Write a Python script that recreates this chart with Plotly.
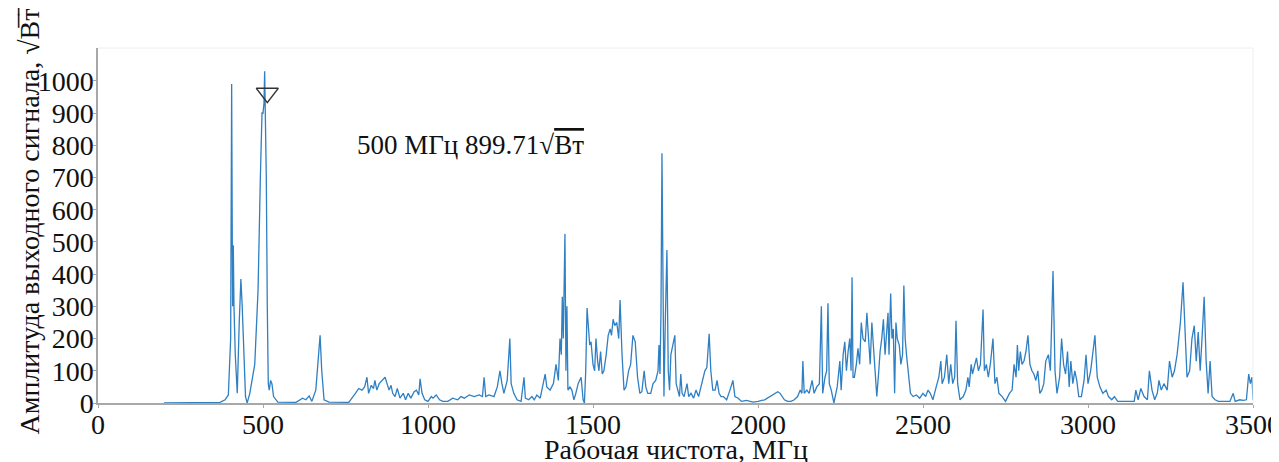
import plotly.graph_objects as go

# Spectrum (frequency in MHz, amplitude in sqrt(W))
freq_mhz = [200, 370, 385, 395, 402, 405, 407, 408, 410, 412, 416, 422, 428, 433, 437, 441, 447, 452,
            460, 475, 485, 492, 497, 500, 503, 505, 507, 510, 513, 516, 519, 523, 527, 532, 545,
            600, 620, 630, 640, 648, 660, 668, 673, 678, 685, 700, 760, 780, 790, 800, 808, 815, 820,
            828, 835, 839, 845, 852, 862, 870, 876, 882, 888, 893, 900, 907, 915, 925, 932, 940, 948,
            958, 965, 972, 976, 982, 990, 1000, 1010, 1015, 1025, 1035, 1045, 1060, 1075, 1090, 1100,
            1110, 1125, 1140, 1155, 1165, 1170, 1175, 1185, 1200, 1210, 1218, 1224, 1230, 1240, 1248,
            1252, 1260, 1270, 1282, 1291, 1295, 1305, 1315, 1322, 1330, 1340, 1348, 1355, 1360, 1370,
            1380, 1388, 1395, 1400, 1404, 1407, 1410, 1412, 1415, 1418, 1421, 1424, 1430, 1436, 1442,
            1448, 1455, 1464, 1470, 1474, 1478, 1482, 1487, 1490, 1494, 1500, 1505, 1509, 1514, 1518,
            1523, 1528, 1533, 1540, 1546, 1552, 1556, 1561, 1566, 1572, 1578, 1582, 1588, 1594, 1600,
            1608, 1614, 1621, 1628, 1635, 1642, 1648, 1655, 1660, 1666, 1675, 1682, 1690, 1697, 1700,
            1703, 1706, 1709, 1712, 1715, 1719, 1724, 1728, 1732, 1736, 1741, 1748, 1752, 1757, 1762,
            1766, 1770, 1776, 1785, 1790, 1797, 1805, 1812, 1820, 1828, 1836, 1839, 1845, 1852, 1857,
            1863, 1870, 1876, 1882, 1888, 1895, 1905, 1915, 1924, 1930, 1940, 1950, 1965, 1985, 2000,
            2020, 2045, 2060, 2067, 2080, 2090, 2100, 2110, 2120, 2128, 2133, 2136, 2140, 2148, 2155,
            2164, 2170, 2178, 2186, 2192, 2196, 2203, 2208, 2212, 2216, 2222, 2230, 2240, 2248, 2252,
            2258, 2263, 2268, 2273, 2278, 2282, 2285, 2288, 2292, 2298, 2303, 2308, 2313, 2318, 2325,
            2330, 2336, 2340, 2345, 2350, 2355, 2360, 2366, 2370, 2375, 2380, 2385, 2390, 2394, 2397,
            2402, 2406, 2410, 2414, 2418, 2422, 2428, 2433, 2438, 2442, 2446, 2450, 2455, 2462, 2470,
            2480, 2490, 2500, 2508, 2515, 2522, 2530, 2540, 2548, 2554, 2558, 2565, 2572, 2578, 2584,
            2590, 2596, 2600, 2605, 2612, 2622, 2630, 2636, 2640, 2646, 2650, 2655, 2662, 2668, 2674,
            2682, 2686, 2692, 2698, 2704, 2712, 2718, 2724, 2730, 2740, 2750, 2762, 2770, 2776, 2782,
            2786, 2790, 2795, 2800, 2806, 2812, 2818, 2824, 2830, 2836, 2842, 2848, 2854, 2860, 2866,
            2872, 2880, 2886, 2894, 2900, 2906, 2914, 2920, 2926, 2932, 2938, 2943, 2948, 2954, 2960,
            2966, 2972, 2980, 2988, 2994, 3000, 3008, 3014, 3021, 3028, 3036, 3045, 3055, 3062, 3072,
            3080, 3090, 3110, 3130, 3140, 3145, 3152, 3160, 3170, 3180, 3186, 3194, 3202, 3210, 3215,
            3222, 3230, 3240, 3247, 3255, 3262, 3270, 3280, 3288, 3294, 3300, 3308, 3315, 3322, 3328,
            3334, 3340, 3346, 3352, 3358, 3364, 3370, 3376, 3385, 3395, 3410, 3430, 3440, 3446, 3460,
            3470, 3480, 3487, 3492, 3497, 3500]
amplitude = [0, 2, 10, 25, 200, 990, 480, 300, 490, 300, 150, 30, 250, 385, 300, 200, 20, 0,
             30, 120, 350, 700, 900, 899.71, 930, 1030, 900, 700, 300, 60, 40, 70, 60, 20, 3,
             2, 15, 10, 22, 5, 40, 130, 210, 100, 10, 3, 2, 30, 45, 40, 50, 80, 30,
             55, 45, 70, 40, 60, 70, 80, 60, 40, 55, 30, 20, 45, 15, 30, 10, 30, 15,
             35, 40, 25, 75, 30, 10, 5, 20, 15, 25, 10, 5, 5, 15, 10, 20,
             15, 25, 20, 25, 20, 80, 20, 25, 20, 50, 100, 60, 30, 70, 200,
             60, 30, 10, 5, 80, 15, 10, 20, 10, 25, 15, 60, 90, 50, 40,
             60, 120, 70, 200, 150, 330, 200, 340, 525, 100, 300, 40, 50, 40, 10,
             30, 60, 80, 10, 0, 100, 295, 200, 180, 190, 120, 100, 200, 130, 100,
             160, 90, 100, 150, 210, 230, 210, 260, 240, 250, 200, 320, 150, 40, 50,
             100, 120, 210, 190, 80, 30, 35, 100, 50, 30, 30, 60, 70, 100, 180,
             90, 280, 775, 300, 20, 250, 475, 100, 40, 150, 180, 210, 60, 40, 20,
             90, 30, 20, 60, 20, 30, 15, 40, 20, 50, 80, 100, 110, 215, 100,
             40, 40, 70, 30, 20, 20, 10, 40, 70, 20, 15, 5, 8, 3, 5,
             10, 25, 35, 30, 10, 5, 5, 10, 20, 40, 30, 130, 30, 40, 30,
             70, 30, 50, 60, 300, 30, 80, 100, 310, 60, 40, 0, 50, 130, 40,
             150, 190, 100, 160, 200, 100, 390, 80, 80, 120, 170, 120, 250, 200, 190,
             280, 200, 120, 250, 160, 100, 20, 100, 160, 200, 260, 150, 230, 280, 150,
             340, 200, 230, 30, 250, 200, 180, 120, 150, 365, 200, 150, 100, 30, 20,
             25, 15, 30, 20, 40, 30, 10, 50, 80, 130, 60, 80, 150, 60, 120,
             60, 80, 255, 60, 10, 20, 40, 80, 50, 120, 90, 110, 140, 100, 120,
             290, 100, 120, 80, 120, 200, 60, 80, 30, 20, 5, 30, 40, 120, 80,
             180, 100, 160, 120, 130, 160, 210, 120, 100, 90, 70, 100, 30, 40, 60,
             130, 150, 100, 410, 100, 30, 80, 200, 120, 90, 160, 50, 130, 60, 100,
             70, 20, 20, 70, 150, 60, 100, 150, 210, 80, 50, 30, 40, 20, 10,
             20, 5, 5, 5, 5, 40, 10, 45, 20, 10, 100, 40, 10, 30, 70,
             40, 60, 40, 130, 80, 100, 150, 250, 375, 200, 80, 100, 200, 240, 130,
             220, 100, 210, 330, 130, 30, 130, 20, 10, 5, 5, 5, 30, 5, 10,
             8, 10, 90, 60, 80, 10]

x_ticks = [0, 500, 1000, 1500, 2000, 2500, 3000, 3500]
y_ticks = [0, 100, 200, 300, 400, 500, 600, 700, 800, 900, 1000]

marker_freq = [513]
marker_amp = [962]
marker_label = "500 МГц 899.71√<span style='text-decoration:overline'>Вт</span>"
y_title = "Амплитуда выходного сигнала, √В\u0305т\u0305"
x_title = "Рабочая чистота, МГц"

FONT = "Liberation Serif, Times New Roman, serif"

fig = go.Figure()
fig.add_trace(go.Scatter(x=freq_mhz, y=amplitude, mode="lines",
                         line=dict(color="#2f7fc3", width=1.3), showlegend=False,
                         hoverinfo="x+y"))
fig.add_trace(go.Scatter(x=marker_freq, y=marker_amp, mode="markers",
                         marker=dict(symbol="triangle-down-open", size=19,
                                     color="#333333", line=dict(width=1.5, color="#333333")),
                         showlegend=False, hoverinfo="skip"))

fig.update_layout(
    width=1271, height=454,
    margin=dict(l=90, r=26, t=40, b=59),
    paper_bgcolor="white", plot_bgcolor="white",
    font=dict(family=FONT, size=28, color="#111111"),
    xaxis=dict(range=[0, 3500], tickvals=x_ticks, showgrid=False, zeroline=False,
               automargin=False, ticklabeloverflow="allow",
               showline=True, linecolor="#a8a8a8", linewidth=1.5,
               ticks="outside", ticklen=3, tickcolor="#a8a8a8",
               ticklabelstandoff=-7,
               tickfont=dict(family=FONT, size=28, color="#111111")),
    yaxis=dict(range=[0, 1102], tickvals=y_ticks, showgrid=False, zeroline=False,
               automargin=False, ticklabeloverflow="allow",
               showline=True, linecolor="#a8a8a8", linewidth=1.5,
               ticks="outside", ticklen=3, tickcolor="#a8a8a8",
               ticklabelstandoff=-6,
               tickfont=dict(family=FONT, size=28, color="#111111")),
    shapes=[
        dict(type="line", xref="paper", yref="paper", x0=0, x1=1, y0=1, y1=1,
             line=dict(color="#eeeeee", width=1)),
        dict(type="line", xref="paper", yref="paper", x0=1, x1=1, y0=0, y1=1,
             line=dict(color="#eeeeee", width=1)),
    ],
    annotations=[
        dict(x=780, y=801, xref="x", yref="y", text=marker_label, showarrow=False,
             xanchor="left", yanchor="middle", font=dict(family=FONT, size=27, color="#111111")),
        dict(x=0.5, y=-0.132, xref="paper", yref="paper", text=x_title,
             showarrow=False, xanchor="center", yanchor="middle",
             font=dict(family=FONT, size=28, color="#111111")),
        dict(x=-0.059, y=0.522, xref="paper", yref="paper", textangle=-90,
             text=y_title,
             showarrow=False, xanchor="center", yanchor="middle",
             font=dict(family=FONT, size=28, color="#111111")),
    ],
)

fig.write_html("out.html")
